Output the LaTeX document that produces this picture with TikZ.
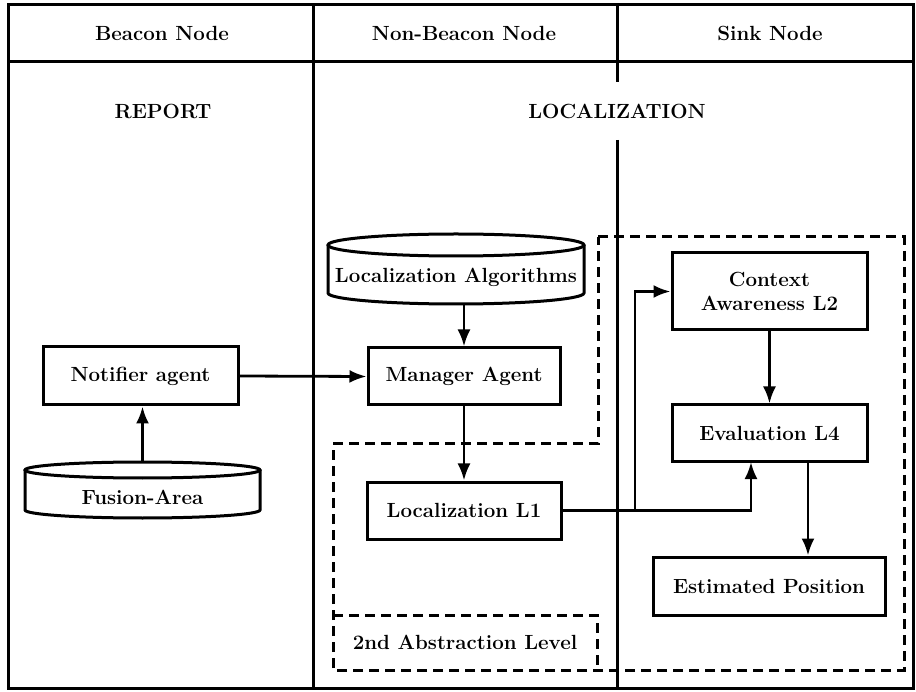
\documentclass[tikz,border=0pt]{standalone}
\usetikzlibrary{arrows.meta}
\begin{document}
\begin{tikzpicture}[x=1pt,y=-1pt,
  every node/.style={font=\fontsize{20.5}{24}\selectfont\bfseries},
  frame/.style={line width=3pt},
  box/.style={draw,line width=3pt,inner sep=0pt},
  cyltext/.style={inner sep=0pt,text height=33pt,text depth=5pt},
  arr/.style={line width=2.8pt,-{Latex[length=17pt,width=13pt]}},
  dashbox/.style={line width=3pt,dash pattern=on 10pt off 6pt}
]
\useasboundingbox (0,0) rectangle (916,692);
\fill[white] (0,0) rectangle (916,692);

% frame and lanes
\draw[frame] (8,5) rectangle (913,688);
\draw[frame] (8,62) -- (913,62);
\draw[frame] (313,5) -- (313,688);
\draw[frame] (617,5) -- (617,82);
\draw[frame] (617,140) -- (617,688);

% headers
\node (hb) at (162,33) {Beacon Node};
\node (hn) at (464,33) {Non-Beacon Node};
\node (hs) at (770,33) {Sink Node};
\node (rep) at (163,111) {REPORT};
\node (loc) at (617,111) {LOCALIZATION};

% dashed regions
\draw[dashbox] (598,237) -- (904,237) -- (904,670) -- (333,670) -- (333,444) -- (598,444) -- cycle;
\draw[dashbox] (333,615) -- (597,615) -- (597,670);
\node (abs) at (465,642) {2nd Abstraction Level};

% cylinders
\draw[line width=3pt] (328,245) -- (328,293) arc[start angle=180,end angle=0,x radius=128,y radius=11] -- (584,245);
\draw[line width=3pt] (456,245) ellipse [x radius=128,y radius=11];
\node[cyltext,minimum width=256pt,minimum height=70pt] (la) at (456,269) {Localization Algorithms};

\draw[line width=3pt] (25,470) -- (25,510) arc[start angle=180,end angle=0,x radius=117.5,y radius=8] -- (260,470);
\draw[line width=3pt] (142.5,470) ellipse [x radius=117.5,y radius=8];
\node[cyltext,minimum width=235pt,minimum height=56pt] (fa) at (142.5,490) {Fusion-Area};

% boxes
\node[box,minimum width=195pt,minimum height=58pt] (na) at (140.5,376) {Notifier agent};
\node[box,minimum width=192pt,minimum height=57pt] (ma) at (464,376.5) {Manager Agent};
\node[box,minimum width=194pt,minimum height=57pt] (l1) at (464,510.5) {Localization L1};
\node[box,minimum width=195pt,minimum height=77pt,align=center] (ca) at (769.5,291.5) {Context\\Awareness L2};
\node[box,minimum width=195pt,minimum height=57pt] (ev) at (769.5,433.5) {Evaluation L4};
\node[box,minimum width=232pt,minimum height=58pt] (ep) at (769,586) {Estimated Position};

% connectors
\draw[arr] (fa.north) -- (fa.north |- na.south);
\draw[arr] (na.east) -- (ma.west);
\draw[arr] (la.south -| ma.north) -- (ma.north);
\draw[arr] (ma.south) -- (l1.north);
\coordinate (j) at (635,510.5);
\draw[arr] (l1.east) -- (j) -- (j |- ca.west) -- (ca.west);
\draw[arr] (j) -- (751,510.5) -- (751,462);
\draw[arr] (ca.south) -- (ev.north);
\draw[arr] (808,462) -- (ep.north -| 808,0);
\end{tikzpicture}
\end{document}
